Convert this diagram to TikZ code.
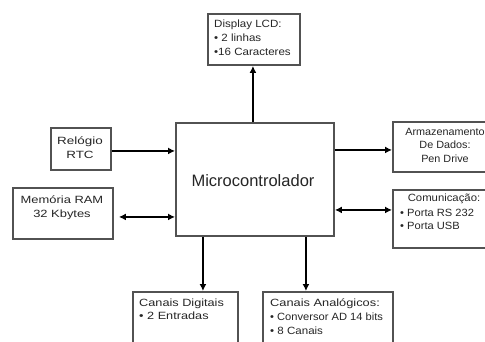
\documentclass[tikz,border=0pt]{standalone}
\usepackage{fontspec}
\usepackage{graphicx}
\setmainfont{Liberation Sans}
\usetikzlibrary{arrows.meta}
\newcommand{\hsx}[2]{\scalebox{#1}[1]{#2}}
\begin{document}
\begin{tikzpicture}[x=1pt,y=-1pt,
 box/.style={draw=black!68, line width=1.9pt, fill=white, inner sep=0pt, anchor=north west},
 txt/.style={font=\fontsize{10.5}{14}\selectfont, inner sep=0pt, text=black!85},
 arr/.style={line width=1.6pt, -{Latex[length=7pt,width=7pt]}},
 darr/.style={line width=1.6pt, {Latex[length=7pt,width=7pt]}-{Latex[length=7pt,width=7pt]}}]
\useasboundingbox (0,0) rectangle (485,341);
\clip (0,0) rectangle (485,341);
% boxes
\node[box, minimum width=92pt, minimum height=51pt] (lcd) at (207,13) {};
\node[box, minimum width=158pt, minimum height=113pt] (mc) at (175,122) {};
\node[box, minimum width=60pt, minimum height=42pt] (rtc) at (50,127) {};
\node[box, minimum width=100pt, minimum height=51pt] (ram) at (12,187) {};
\node[box, minimum width=103pt, minimum height=50pt] (arm) at (392,121) {};
\node[box, minimum width=103pt, minimum height=58pt] (com) at (392,189) {};
\node[box, minimum width=105pt, minimum height=60pt] (dig) at (132,291) {};
\node[box, minimum width=130pt, minimum height=60pt] (ana) at (262,291) {};
% texts
\node[txt, anchor=north west, align=left] (tlcd) at (214,20) {\hsx{1.1}{Display LCD:}\\\hsx{1.1}{• 2 linhas}\\\hsx{1.1}{•16 Caracteres}};
\node[font=\fontsize{16.5}{18}\selectfont, inner sep=0pt, text=black!85] (tmc) at (253,181) {Microcontrolador};
\node[txt, anchor=north, align=center] (trtc) at (80,137) {\hsx{1.28}{Relógio}\\\hsx{1.28}{RTC}};
\node[txt, anchor=north, align=center] (tram) at (62,196) {\hsx{1.23}{Memória RAM}\\\hsx{1.23}{32 Kbytes}};
\node[txt, anchor=north, align=center, font=\fontsize{10.5}{13.5}\selectfont] (tarm) at (445,128) {\hsx{1.03}{Armazenamento}\\\hsx{1.03}{De Dados:}\\\hsx{1.03}{Pen Drive}};
\node[txt, anchor=north] (tcom) at (444,194) {\hsx{1.08}{Comunicação:}};
\node[txt, anchor=north west, align=left, font=\fontsize{10.5}{13}\selectfont] (tcomb) at (400,209) {\hsx{1.06}{• Porta RS 232}\\\hsx{1.06}{• Porta USB}};
\node[txt, anchor=north west, align=left, font=\fontsize{10.5}{12.5}\selectfont] (tdig) at (139,299) {\hsx{1.21}{Canais Digitais}\\\hsx{1.21}{• 2 Entradas}};
\node[txt, anchor=north west, align=left] (tana) at (270,299) {\hsx{1.22}{Canais Analógicos:}\\\hsx{1.06}{• Conversor AD 14 bits}\\\hsx{1.1}{• 8 Canais}};
% connectors
\draw[arr] ([xshift=-2pt]mc.north) -- ([xshift=-2pt]mc.north |- lcd.south);
\draw[arr] ([yshift=-2pt]rtc.east) -- ([yshift=-2pt]rtc.east -| mc.west);
\draw[darr, shorten <=5pt] ([yshift=-3.5pt]ram.east) -- ([yshift=-3.5pt]ram.east -| mc.west);
\draw[arr] ([yshift=-3pt]arm.west -| mc.east) -- ([yshift=-3pt]arm.west);
\draw[darr] ([yshift=9pt]com.west -| mc.east) -- ([yshift=9pt]com.west);
\draw[arr] ([xshift=17.5pt]dig.north |- mc.south) -- ([xshift=17.5pt]dig.north);
\draw[arr] ([xshift=-22pt]ana.north |- mc.south) -- ([xshift=-22pt]ana.north);
\end{tikzpicture}
\end{document}
